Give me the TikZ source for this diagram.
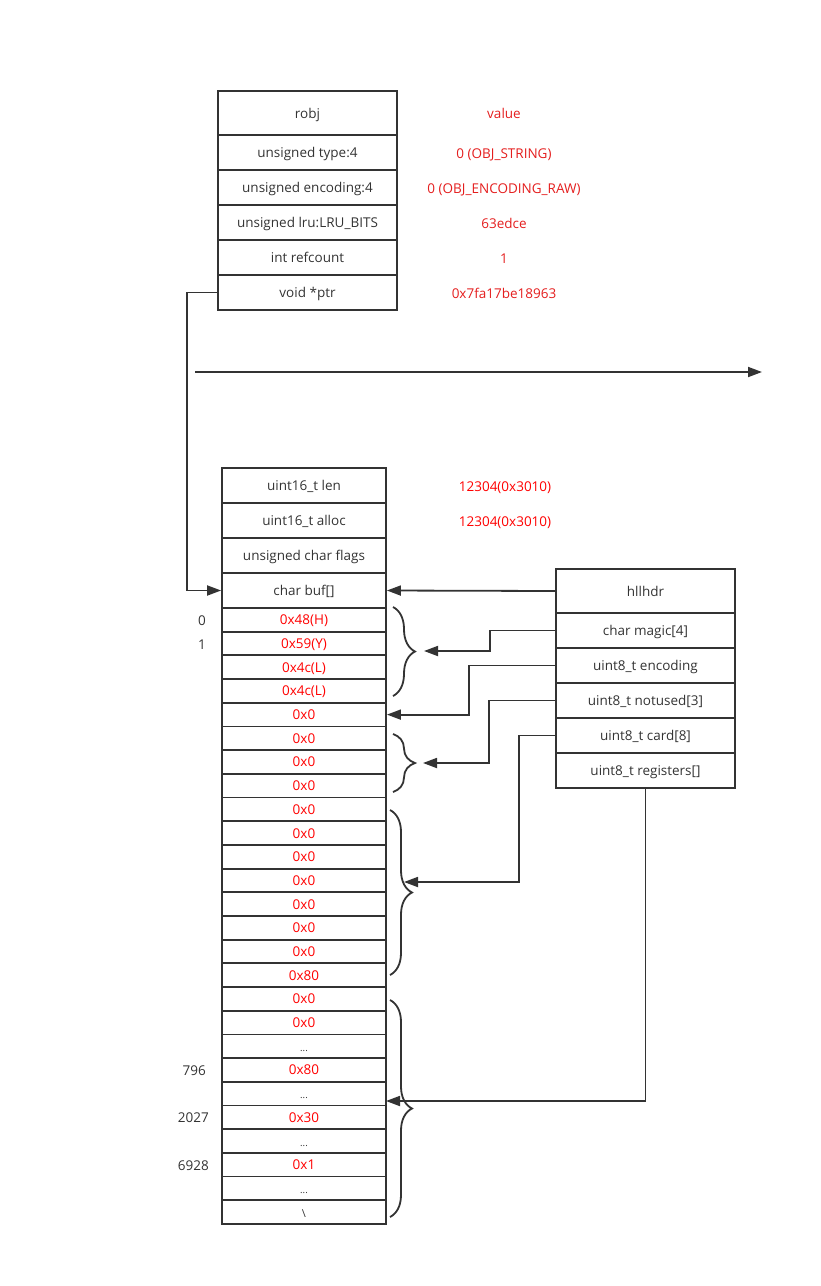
\documentclass[tikz,border=0pt]{standalone}
\usepackage{fontspec}
\setmainfont{Open Sans}
\usetikzlibrary{arrows.meta,decorations.pathreplacing,calc}
\definecolor{ink}{RGB}{51,51,51}
\definecolor{valred}{RGB}{228,30,30}
\definecolor{bytered}{RGB}{255,0,0}
\begin{document}
\begin{tikzpicture}[x=1pt,y=-1pt,
  txt/.style={inner sep=0pt,text height=12pt,text depth=2pt,font=\fontsize{13.5}{15}\selectfont},
  cell/.style={txt,draw=ink,line width=1.8pt,text=ink},
  wide/.style={cell,minimum width=179pt},
  narrow/.style={cell,minimum width=164pt},
  val/.style={txt,text=valred},
  bytev/.style={txt,text=bytered},
  idx/.style={txt,text=ink,anchor=east},
  conn/.style={draw=ink,line width=1.8pt,-{Triangle[length=14pt,width=10pt]}},
  bracestyle/.style={draw=ink,line width=1.8pt,decorate,decoration={brace,amplitude=22pt,aspect=0.5}}]
\useasboundingbox (0,0) rectangle (821,1286);
% robj
\node[wide,minimum height=44pt] (robj) at (307.5,113) {robj};
\node[wide,minimum height=35pt] (type) at (307.5,152.5) {unsigned type:4};
\node[wide,minimum height=35pt] (oenc) at (307.5,187.5) {unsigned encoding:4};
\node[wide,minimum height=35pt] (lru) at (307.5,222.5) {unsigned lru:LRU\_BITS};
\node[wide,minimum height=35pt] (ref) at (307.5,257.5) {int refcount};
\node[wide,minimum height=35pt] (ptr) at (307.5,292.5) {void *ptr};
\node[val] (v0) at (504,113) {value};
\node[val] (v1) at (504,153) {0 (OBJ\_STRING)};
\node[val] (v2) at (504,188) {0 (OBJ\_ENCODING\_RAW)};
\node[val] (v3) at (504,223) {63edce};
\node[val] (v4) at (504,258) {1};
\node[val] (v5) at (504,293) {0x7fa17be18963};
% separator arrow
\coordinate (ha) at (195,372);
\coordinate (hb) at (762,372);
\draw[conn] (ha) -- (hb);
% sds
\node[narrow,minimum height=35pt] (len) at (304,485.5) {uint16\_t len};
\node[narrow,minimum height=35pt] (alloc) at (304,520.5) {uint16\_t alloc};
\node[narrow,minimum height=35pt] (flags) at (304,555.5) {unsigned char flags};
\node[narrow,minimum height=35pt] (buf) at (304,590.5) {char buf[]};
\node[bytev] (vl) at (505,486) {12304(0x3010)};
\node[bytev] (va) at (505,521) {12304(0x3010)};
% bytes
\foreach \i/\t in {1/0x48(H),2/0x59(Y),3/0x4c(L),4/0x4c(L),5/0x0,6/0x0,7/0x0,8/0x0,
  9/0x0,10/0x0,11/0x0,12/0x0,13/0x0,14/0x0,15/0x0,16/0x80,17/0x0,18/0x0,20/0x80,22/0x30,24/0x1}{
  \node[narrow,minimum height=23.69pt,text=bytered] (b\i) at (304,{608+(\i-0.5)*23.69}) {\t};
}
\foreach \i in {19,21,23,25}{
  \node[narrow,minimum height=23.69pt,font=\fontsize{9.5}{10}\selectfont] (b\i) at (304,{608+(\i-0.5)*23.69}) {...};
}
\node[narrow,minimum height=23.69pt,font=\fontsize{11}{12}\selectfont] (b26) at (304,{608+25.5*23.69}) {\textbackslash};
% indices
\node[idx] (i0) at (206,620) {0};
\node[idx] (i1) at (206,644) {1};
\node[idx] (i796) at (206,1070) {796};
\node[idx] (i2027) at (209,1117) {2027};
\node[idx] (i6928) at (209,1165) {6928};
% hllhdr
\node[wide,minimum height=44pt] (hll) at (645.5,591) {hllhdr};
\node[wide,minimum height=35pt] (magic) at (645.5,630.5) {char magic[4]};
\node[wide,minimum height=35pt] (henc) at (645.5,665.5) {uint8\_t encoding};
\node[wide,minimum height=35pt] (notused) at (645.5,700.5) {uint8\_t notused[3]};
\node[wide,minimum height=35pt] (card) at (645.5,735.5) {uint8\_t card[8]};
\node[wide,minimum height=35pt] (reg) at (645.5,770.5) {uint8\_t registers[]};
% braces
\draw[bracestyle] (393,607) -- (393,696);
\draw[bracestyle] (393,734) -- (393,792);
\draw[bracestyle] (390,810) -- (390,975);
\draw[bracestyle] (390,1000) -- (390,1217);
% brace tips
\coordinate (tA) at (424,651);
\coordinate (tB) at (423,763);
\coordinate (tC) at (404,882);
\coordinate (tD) at (386,1101);
% connectors
\draw[conn] (ptr.west) -- ++(-30,0) |- (buf.west);
\draw[conn] (hll.west) -- (buf.east);
\draw[conn] (magic.west) -- ++(-65,0) |- (tA);
\draw[conn] (henc.west) -- ++(-86,0) |- (b5.east);
\draw[conn] (notused.west) -- ++(-66,0) |- (tB);
\draw[conn] (card.west) -- ++(-36,0) |- (tC);
\draw[conn] (reg.south) |- (tD);
\end{tikzpicture}
\end{document}
